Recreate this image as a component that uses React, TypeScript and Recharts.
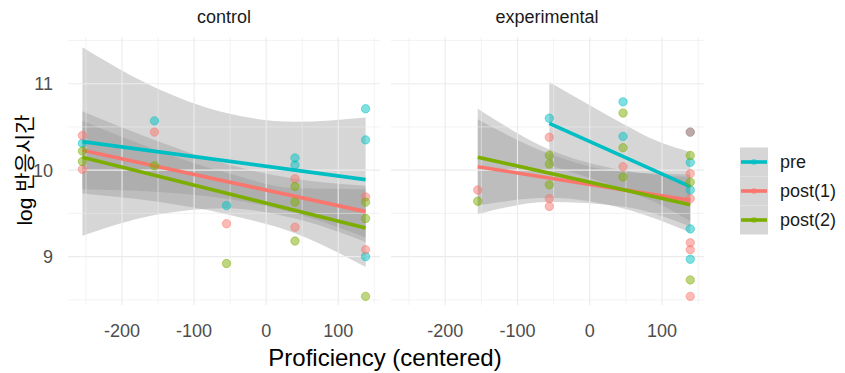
import { Area, ComposedChart, Line, ReferenceLine, Scatter, XAxis, YAxis } from 'recharts'

// facet scales (shared)
const X_DOMAIN: [number, number] = [-275, 158]
const Y_DOMAIN: [number, number] = [8.44, 11.54]
const X_TICKS = [-200, -100, 0, 100]
const Y_TICKS = [9, 10, 11]
const X_MINOR = [-250, -150, -50, 50, 150]
const Y_MINOR = [8.5, 9.5, 10.5, 11.5]

const GROUPS = ['pre', 'post(1)', 'post(2)']
const COLORS = ['#00BFC4', '#F8766D', '#7CAE00']

// control panel
const ctrlPrePts = [[-255, 10.31], [-155, 10.57], [-55, 9.59], [40, 10.14], [40, 10.06], [138, 10.71], [138, 10.35], [138, 9.0]]
const ctrlPost1Pts = [[-255, 10.4], [-255, 10.01], [-155, 10.44], [-55, 9.38], [40, 9.9], [40, 9.34], [138, 9.69], [138, 9.08]]
const ctrlPost2Pts = [[-255, 10.1], [-255, 10.22], [-155, 10.05], [-55, 8.92], [40, 9.81], [40, 9.63], [40, 9.18], [138, 9.63], [138, 9.44], [138, 8.54]]
const ctrlPreFit = [[-255, 10.33], [138, 9.89]]
const ctrlPost1Fit = [[-255, 10.23], [138, 9.52]]
const ctrlPost2Fit = [[-255, 10.15], [138, 9.33]]
const ctrlPreBand = [[-255, 9.24, 11.42], [-155, 9.48, 10.96], [-55, 9.56, 10.66], [40, 9.44, 10.56], [138, 9.17, 10.61]]
const ctrlPost1Band = [[-255, 9.78, 10.68], [-155, 9.75, 10.35], [-55, 9.67, 10.07], [40, 9.5, 9.9], [138, 9.22, 9.82]]
const ctrlPost2Band = [[-255, 9.73, 10.57], [-155, 9.64, 10.24], [-55, 9.49, 9.97], [40, 9.27, 9.79], [138, 8.88, 9.78]]

// experimental panel
const expPrePts = [[-56, 10.6], [46, 10.79], [46, 10.39], [139, 10.44], [139, 10.09], [139, 9.77], [139, 9.32], [139, 8.97]]
const expPost1Pts = [[-155, 9.77], [-56, 10.38], [-56, 9.67], [-56, 9.58], [46, 10.04], [139, 10.44], [139, 9.96], [139, 9.67], [139, 9.16], [139, 9.08], [139, 8.54]]
const expPost2Pts = [[-155, 9.64], [-56, 10.17], [-56, 10.07], [-56, 9.83], [46, 10.66], [46, 10.26], [46, 9.92], [139, 10.17], [139, 9.86], [139, 8.73]]
const expPreFit = [[-56, 10.54], [139, 9.81]]
const expPost1Fit = [[-155, 10.04], [139, 9.65]]
const expPost2Fit = [[-155, 10.15], [139, 9.6]]
const expPreBand = [[-56, 10.06, 11.02], [0, 9.91, 10.75], [45, 9.78, 10.54], [95, 9.61, 10.33], [139, 9.41, 10.21]]
const expPost1Band = [[-155, 9.49, 10.59], [-56, 9.63, 10.19], [45, 9.58, 9.98], [139, 9.35, 9.95]]
const expPost2Band = [[-155, 9.59, 10.71], [-56, 9.68, 10.24], [45, 9.56, 10.0], [139, 9.28, 9.92]]

const toPts = (a: number[][]) => a.map(([x, y]) => ({ x, y }))
const toBand = (a: number[][]) => a.map(([x, lo, hi]) => ({ x, band: [lo, hi] }))

type Series = { pts: number[][]; fit: number[][]; band: number[][] }

const CONTROL: Series[] = [
  { pts: ctrlPrePts, fit: ctrlPreFit, band: ctrlPreBand },
  { pts: ctrlPost1Pts, fit: ctrlPost1Fit, band: ctrlPost1Band },
  { pts: ctrlPost2Pts, fit: ctrlPost2Fit, band: ctrlPost2Band },
]
const EXPERIMENTAL: Series[] = [
  { pts: expPrePts, fit: expPreFit, band: expPreBand },
  { pts: expPost1Pts, fit: expPost1Fit, band: expPost1Band },
  { pts: expPost2Pts, fit: expPost2Fit, band: expPost2Band },
]

const FONT = '"Liberation Sans", Arial, sans-serif'
const GRID = '#ebebeb'
const TOP = 37
const BOTTOM_AXIS = 68

function Panel({ series, width, showY }: { series: Series[]; width: number; showY: boolean }) {
  return (
    <ComposedChart width={width} height={373} margin={{ top: TOP, right: 0, bottom: 0, left: 0 }}>
      <XAxis
        type="number"
        dataKey="x"
        domain={X_DOMAIN}
        allowDataOverflow
        ticks={X_TICKS}
        interval={0}
        height={BOTTOM_AXIS}
        axisLine={false}
        tickLine={false}
        tickMargin={13}
        tick={{ fontSize: 18, fill: '#4d4d4d', fontFamily: FONT }}
      />
      <YAxis
        type="number"
        dataKey="y"
        domain={Y_DOMAIN}
        allowDataOverflow
        ticks={Y_TICKS}
        interval={0}
        hide={!showY}
        width={showY ? 68 : 0}
        axisLine={false}
        tickLine={false}
        tickMargin={9}
        tick={{ fontSize: 18, fill: '#4d4d4d', fontFamily: FONT }}
      />
      {X_MINOR.map((v) => (
        <ReferenceLine key={`xm${v}`} x={v} stroke={GRID} strokeWidth={0.6} />
      ))}
      {Y_MINOR.map((v) => (
        <ReferenceLine key={`ym${v}`} y={v} stroke={GRID} strokeWidth={0.6} />
      ))}
      {X_TICKS.map((v) => (
        <ReferenceLine key={`x${v}`} x={v} stroke={GRID} strokeWidth={1.1} />
      ))}
      {Y_TICKS.map((v) => (
        <ReferenceLine key={`y${v}`} y={v} stroke={GRID} strokeWidth={1.1} />
      ))}
      {series.map((s, i) => (
        <Scatter
          key={`p${i}`}
          data={toPts(s.pts)}
          dataKey="y"
          isAnimationActive={false}
          shape={(p: any) => <circle cx={p.cx} cy={p.cy} r={4.2} fill={COLORS[i]} fillOpacity={0.5} stroke={COLORS[i]} strokeOpacity={0.6} strokeWidth={0.8} />}
        />
      ))}
      {series.flatMap((s, i) => [
        <Area
          key={`b${i}`}
          data={toBand(s.band)}
          dataKey="band"
          type="monotone"
          stroke="none"
          fill="#999999"
          fillOpacity={0.4}
          dot={false}
          activeDot={false}
          isAnimationActive={false}
        />,
        <Line
          key={`l${i}`}
          data={toPts(s.fit)}
          dataKey="y"
          type="linear"
          stroke={COLORS[i]}
          strokeWidth={3.6}
          dot={false}
          activeDot={false}
          isAnimationActive={false}
        />,
      ])}
    </ComposedChart>
  )
}

export default function App() {
  return (
    <div style={{ position: 'absolute', left: 0, top: 0, width: 845, height: 373, background: '#fff', fontFamily: FONT }}>
      <div style={{ position: 'absolute', left: 0, top: 0 }}>
        <Panel series={CONTROL} width={380} showY />
      </div>
      <div style={{ position: 'absolute', left: 391, top: 0 }}>
        <Panel series={EXPERIMENTAL} width={313} showY={false} />
      </div>
      <svg width={845} height={373} style={{ position: 'absolute', left: 0, top: 0, pointerEvents: 'none' }}>
        <text x={224} y={23} textAnchor="middle" fontSize={18} fill="#1a1a1a" fontFamily={FONT}>control</text>
        <text x={547} y={23} textAnchor="middle" fontSize={18} fill="#1a1a1a" fontFamily={FONT}>experimental</text>
        <text x={385} y={366} textAnchor="middle" fontSize={24} fill="#000" fontFamily={FONT}>Proficiency (centered)</text>
        <text
          x={0}
          y={0}
          transform="translate(32,170) rotate(-90)"
          textAnchor="middle"
          fontSize={21}
          fill="#000"
          fontFamily={`${FONT}, "Noto Sans CJK KR"`}
        >
          log 반응시간
        </text>
        {GROUPS.map((g, i) => {
          const cy = 162 + i * 29
          return (
            <g key={g}>
              <rect x={740} y={cy - 14.5} width={28} height={29} fill="#d6d6d6" />
              <line x1={741} x2={767} y1={cy} y2={cy} stroke={COLORS[i]} strokeWidth={3.6} />
              <circle cx={754} cy={cy} r={3} fill={COLORS[i]} fillOpacity={0.5} />
              <text x={780} y={cy + 6} fontSize={18} fill="#1a1a1a" fontFamily={FONT}>{g}</text>
            </g>
          )
        })}
      </svg>
    </div>
  )
}
